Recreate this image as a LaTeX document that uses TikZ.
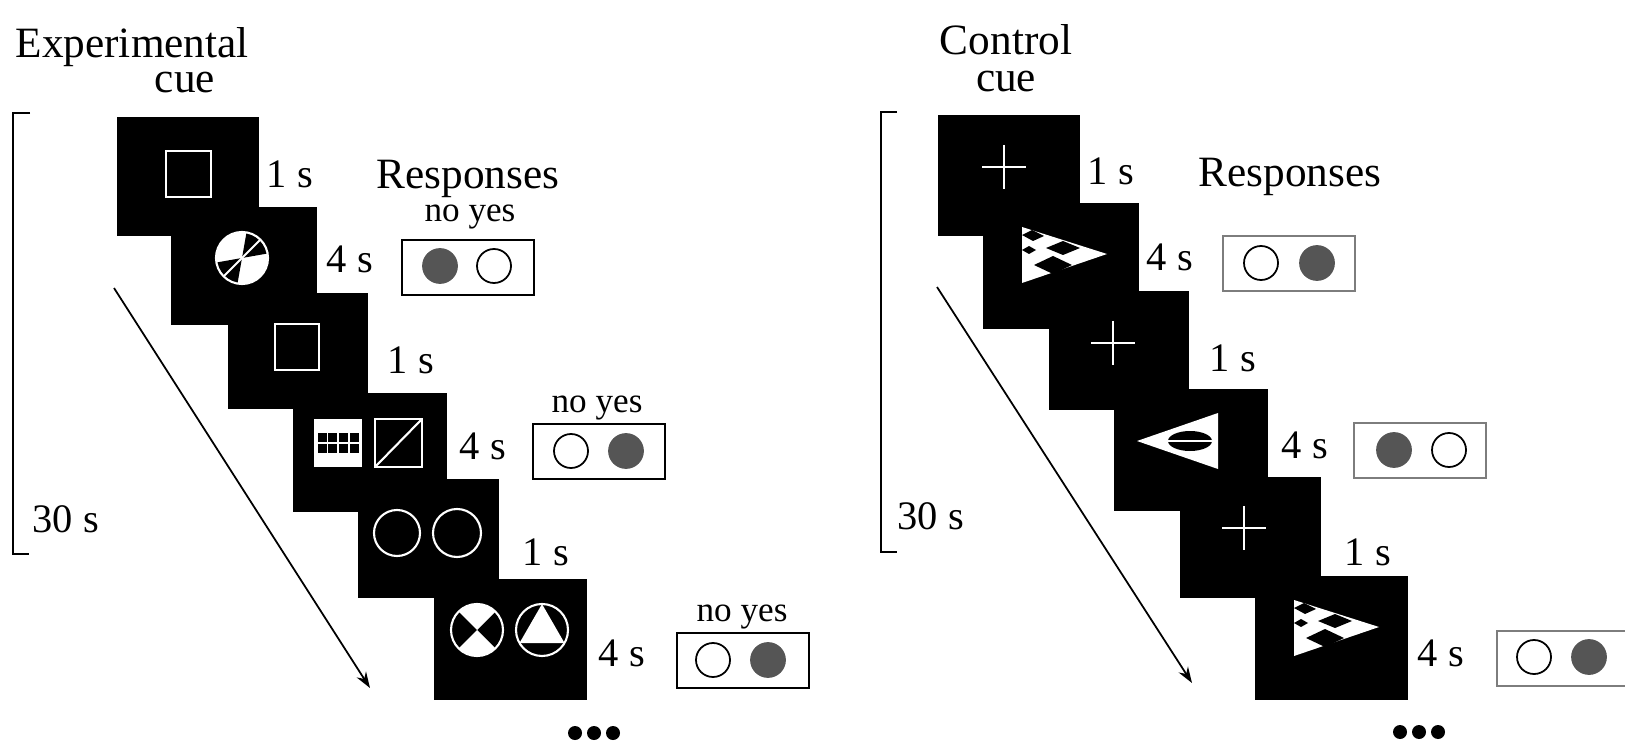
\documentclass[tikz,border=0pt]{standalone}
\usepackage{fontspec}
\setmainfont{Liberation Serif}
\usetikzlibrary{arrows.meta}

\definecolor{dotgray}{RGB}{85,85,85}
\definecolor{framegray}{RGB}{125,125,125}

% triangle with dark patches (control stimulus)
\newcommand{\flagtri}{%
  \fill[white] (1022,227) -- (1022,283) -- (1107,254) -- cycle;
  \fill[black] (1022,235) -- (1032,230) -- (1044,236) -- (1033,241) -- cycle;
  \fill[black] (1046,248) -- (1063,241) -- (1080,248) -- (1063,255) -- cycle;
  \fill[black] (1022,250) -- (1029,246) -- (1036,250) -- (1029,254) -- cycle;
  \fill[black] (1034,265) -- (1053,256) -- (1072,265) -- (1053,274) -- cycle;
}

\begin{document}
\begin{tikzpicture}[x=0.01cm, y=-0.01cm,
    screen/.style={fill=black, inner sep=0pt, anchor=north west},
    stim/.style={draw=white, line width=0.6pt},
    timelbl/.style={font=\fontsize{11.5}{13}\selectfont, inner sep=0pt},
    title/.style={font=\fontsize{12.3}{14}\selectfont, inner sep=0pt, anchor=base},
    noyes/.style={font=\fontsize{10}{12}\selectfont, inner sep=0pt, anchor=base},
    respbox/.style={draw, line width=0.6pt, inner sep=0pt, anchor=north west,
                    minimum width=1.32cm, minimum height=0.55cm},
    btn/.style={circle, draw, line width=0.5pt, inner sep=0pt, minimum size=0.34cm},
    btnon/.style={btn, draw=dotgray, fill=dotgray},
    timearrow/.style={-{Stealth[length=1.6mm, width=1.1mm]}, line width=0.5pt},
    bracket/.style={line width=0.6pt}]
  \useasboundingbox (0,0) rectangle (1625,746);

  %% ---------- experimental cue ----------
  \node[title, anchor=base west] (exptitle) at (15,58) {Experimental};
  \node[title] (expcue) at (185,93) {cue};
  \draw[bracket] (30,113) -- (13,113) -- (13,554) -- (29,554);
  \node[timelbl, anchor=base west] (exptotal) at (32,532) {30 s};

  \node[screen, minimum width=1.42cm, minimum height=1.19cm] (e1) at (116,116) {};
  \node[screen, minimum width=1.46cm, minimum height=1.18cm] (e2) at (170,206) {};
  \node[screen, minimum width=1.40cm, minimum height=1.16cm] (e3) at (227,292) {};
  \node[screen, minimum width=1.54cm, minimum height=1.19cm] (e4) at (292,392) {};
  \node[screen, minimum width=1.41cm, minimum height=1.19cm] (e5) at (357,478) {};
  \node[screen, minimum width=1.53cm, minimum height=1.21cm] (e6) at (433,578) {};

  % stimuli
  \draw[stim] (166,151) rectangle (211,197);
  \fill[white] (242,258) circle (26);
  \fill[black] (242,258) -- ++(-10:26) arc (-10:-80:26) -- cycle;
  \fill[black] (242,258) -- ++(-190:26) arc (-190:-260:26) -- cycle;
  \draw[stim] (242,258) circle (26);
  \draw[stim] (242,258) ++(-45:26) -- ++(135:52);
  \draw[stim] (275,324) rectangle (319,370);
  \fill[white] (314,419) rectangle (362,467);
  \foreach \cx in {318,328,339,350}
    \foreach \cy in {433,444}
      \fill[black] (\cx,\cy) rectangle ++(9,9);
  \draw[stim] (375,419) rectangle (422,467);
  \draw[stim] (375,467) -- (422,419);
  \draw[stim] (397,533) circle (23);
  \draw[stim] (457,533) circle (24);
  \fill[white] (477,630) -- ++(-45:26) arc (-45:-135:26) -- cycle;
  \fill[white] (477,630) -- ++(45:26) arc (45:135:26) -- cycle;
  \draw[stim] (477,630) circle (26);
  \draw[stim] (542,630) circle (26);
  \fill[white] (542,604) -- (519.5,643) -- (564.5,643) -- cycle;

  \node[timelbl] (et1) at (290,174) {1 s};
  \node[timelbl] (et2) at (350,259) {4 s};
  \node[timelbl] (et3) at (411,360) {1 s};
  \node[timelbl] (et4) at (483,446) {4 s};
  \node[timelbl] (et5) at (546,552) {1 s};
  \node[timelbl] (et6) at (622,653) {4 s};

  \coordinate (expstart) at (114,288);
  \coordinate (expend) at (370,688);
  \draw[timearrow] (expstart) -- (expend);

  % responses
  \node[title] (expresp) at (468,189) {Responses};
  \node[noyes] (eny1) at (470,222) {no yes};
  \node[respbox] (er1) at (401,239) {};
  \node[btnon] (er1a) at (440,266) {};
  \node[btn] (er1b) at (494,266) {};
  \node[noyes] (eny2) at (597,412) {no yes};
  \node[respbox] (er2) at (532,423) {};
  \node[btn] (er2a) at (571,451) {};
  \node[btnon] (er2b) at (626,451) {};
  \node[noyes] (eny3) at (742,621) {no yes};
  \node[respbox] (er3) at (676,632) {};
  \node[btn] (er3a) at (713,660) {};
  \node[btnon] (er3b) at (768,660) {};

  \foreach \i in {0,1,2}
    \fill (575+19*\i,733) circle (7);

  %% ---------- control cue ----------
  \node[title] (ctltitle) at (1006,55) {Control};
  \node[title] (ctlcue) at (1006,92) {cue};
  \draw[bracket] (897,112) -- (881,112) -- (881,552) -- (897,552);
  \node[timelbl, anchor=base west] (ctltotal) at (897,529) {30 s};

  \node[screen, minimum width=1.42cm, minimum height=1.21cm] (c1) at (937,114) {};
  \node[screen, minimum width=1.56cm, minimum height=1.26cm] (c2) at (982,202) {};
  \node[screen, minimum width=1.40cm, minimum height=1.19cm] (c3) at (1048,290) {};
  \node[screen, minimum width=1.54cm, minimum height=1.22cm] (c4) at (1113,388) {};
  \node[screen, minimum width=1.41cm, minimum height=1.21cm] (c5) at (1179,476) {};
  \node[screen, minimum width=1.53cm, minimum height=1.24cm] (c6) at (1254,575) {};

  % stimuli
  \draw[stim] (982,167) -- (1026,167) (1004,145) -- (1004,189);
  \flagtri
  \draw[stim] (1091,343) -- (1135,343) (1113,321) -- (1113,365);
  \fill[white] (1137,441) -- (1218,413) -- (1218,469) -- cycle;
  \fill[black] (1190,441) ellipse (22 and 10);
  \draw[stim] (1168,441) -- (1212,441);
  \draw[stim] (1222,528) -- (1266,528) (1244,506) -- (1244,550);
  \begin{scope}[shift={(272,373)}]
    \flagtri
  \end{scope}

  \node[timelbl] (ct1) at (1111,171) {1 s};
  \node[timelbl] (ct2) at (1170,257) {4 s};
  \node[timelbl] (ct3) at (1233,358) {1 s};
  \node[timelbl] (ct4) at (1305,445) {4 s};
  \node[timelbl] (ct5) at (1368,552) {1 s};
  \node[timelbl] (ct6) at (1441,653) {4 s};

  \coordinate (ctlstart) at (937,287);
  \coordinate (ctlend) at (1192,683);
  \draw[timearrow] (ctlstart) -- (ctlend);

  % responses
  \node[title] (ctlresp) at (1290,187) {Responses};
  \node[respbox, draw=framegray, line width=0.5pt] (cr1) at (1222,235) {};
  \node[btn] (cr1a) at (1261,263) {};
  \node[btnon] (cr1b) at (1317,263) {};
  \node[respbox, draw=framegray, line width=0.5pt] (cr2) at (1353,422) {};
  \node[btnon] (cr2a) at (1394,450) {};
  \node[btn] (cr2b) at (1449,450) {};
  \node[respbox, draw=framegray, line width=0.5pt, minimum width=1.36cm] (cr3) at (1496,630) {};
  \node[btn] (cr3a) at (1534,657) {};
  \node[btnon] (cr3b) at (1589,657) {};

  \foreach \i in {0,1,2}
    \fill (1400+19*\i,732) circle (7);
\end{tikzpicture}
\end{document}
